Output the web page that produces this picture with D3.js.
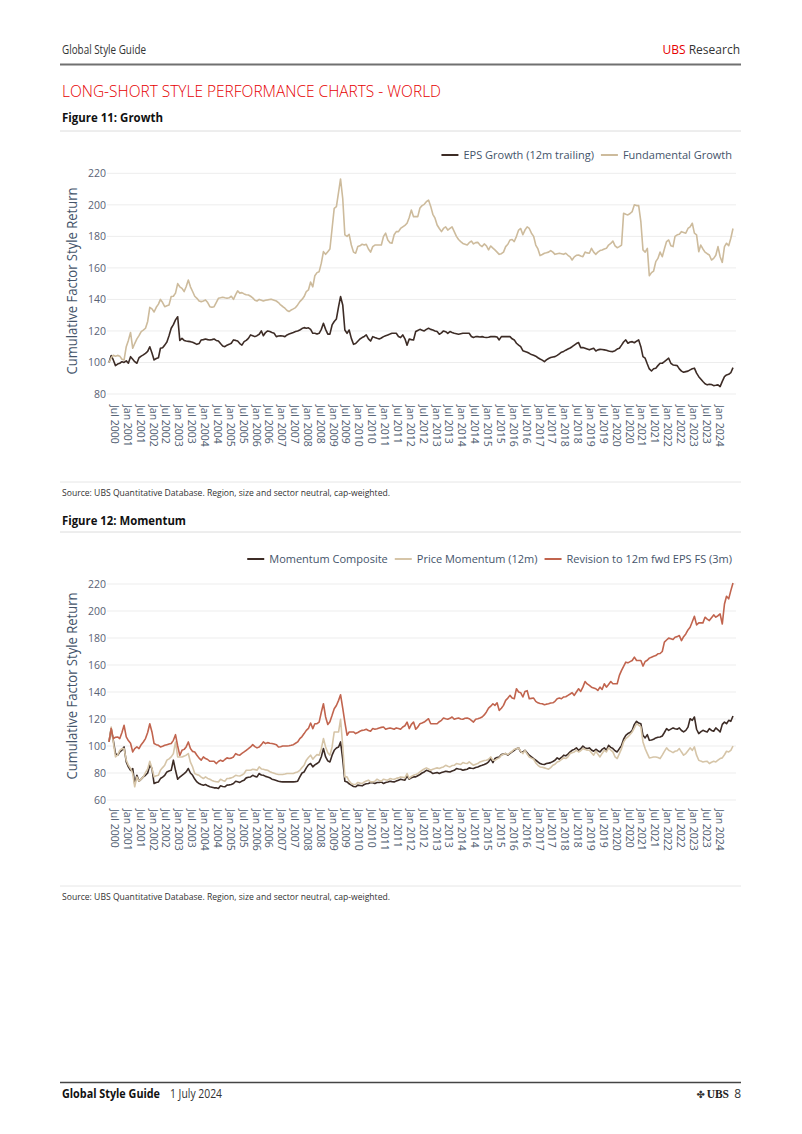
<!DOCTYPE html>
<html><head><meta charset="utf-8">
<script src="https://cdn.jsdelivr.net/npm/d3@7"></script>
<style>body{margin:0;background:#fff;} svg{display:block;}</style>
</head><body><svg id="c" width="802" height="1134"></svg>
<script>
// ---------------- DATA (monthly, first point Mar 2000, last Jun 2024) ----------------
const firstMonth = "2000-03-01";
const growthSeriesNames = ["EPS Growth (12m trailing)", "Fundamental Growth"];
const momentumSeriesNames = ["Momentum Composite", "Price Momentum (12m)", "Revision to 12m fwd EPS FS (3m)"];
const growthTicks = [80, 100, 120, 140, 160, 180, 200, 220];
const momentumTicks = [60, 80, 100, 120, 140, 160, 180, 200, 220];

const epsGrowth = [
100,104.4,101.6,98,99,99.5,100.5,100,101,99.5,103.7,102,
100.5,99.5,103,104,104.8,105.8,107,110,106,101.6,102.5,103,
109,109.4,111,113,117,121.7,124,127,129,114,115.3,114,
113.6,113.4,113.2,112.8,112.2,111.5,112,114.3,114.5,114.9,114.5,114.3,
114.5,114.9,114,113.6,112,110.5,110,111,111.5,112.2,114.3,114,
113.6,112,111,113.2,114,115.3,117.5,117,116.4,117,117.9,120,
117,119,120,119.6,119,118.5,116.4,116.8,117,116.8,116.4,117.5,
118,118.5,119,119.6,120,120.6,121.5,122.1,121.7,122,121,118.5,
118.5,118,118.5,121,124.9,121,118,118,123.8,126,127.6,135.4,
141.8,136.5,120.6,118.5,120.6,115.3,111.5,112,113.5,114.9,115.8,116.5,
117.5,115,113.6,116.4,115.8,115.3,114.9,115.5,116.4,117,117.5,118,
118.5,118.5,118.5,116.5,115.8,117.5,115,111,114.9,114.5,114.3,119.6,
120.3,121,120.5,120,121,121.7,121,120.6,120,119.6,117.9,118.8,
120,119.5,118.5,119.6,119,118.5,118.2,117.9,118.2,118.5,118.5,118.5,
118.5,116.5,115.8,116.4,116.4,116.2,116.4,116,115.8,116,116.4,116.4,
116.4,116.2,114.3,116.4,116.4,116.4,116.4,116.4,115,114.3,112.2,111,
110,107.5,107,106.5,105.8,105,104.6,104,103,102.2,101.5,100.5,
101.6,102.5,103.1,103.5,103.7,104.5,105.5,106.5,107,107.8,108.5,109.2,
110,111,112,112.6,109.4,109.5,109,108.5,108,108.5,109,107.3,
108,108.3,108.2,108,107.8,107.3,107,106.9,107.5,108.5,109,111,
113,114.3,112.2,113,113.2,112.5,113.5,114.3,110,103.7,102.7,99,
95.9,94.6,96,96.4,98,99.5,99.5,100.5,101.6,102.7,99.5,98.4,
98.2,98,95.9,94.5,93.8,94.2,94.5,95.3,96,96.4,93.2,91,
89.5,87.9,86.5,85.8,86.2,86,85.3,85.5,85.8,84.7,88,91,
92.1,92.5,93.5,96.7];

const fundamentalGrowth = [
100,103,104.5,104,104.5,104,102,101.6,110,114,119,109,
112,115,117,119.6,120.5,121.7,126,135,134,132,135,137,
140,138,135.4,136,136.5,141.8,142,144,150,148,147,145,
148,152.3,148,145,142,140.7,139,138.6,139,139.7,138,135.4,
135,135.4,138,140.7,141,141.4,141,140.7,141,142,140,143,
145.4,144,144.3,143.5,143,142.8,142,141,139.5,139,140,139.5,
139,139.5,139.7,140,140,139.5,139,138,136.5,135.5,134.4,133,
132.3,133.3,134,134.8,136.5,138.6,140,141.8,145,146,151,148,
155,157,157.6,163,170.3,168.6,170.3,172,185,197.8,198.9,208,
216.4,204,181,180,181.3,174.5,170,169.3,173.5,174,175,174.5,
175,172,170,173.5,174.5,174.5,174.5,174.5,180,182,177.7,176,
175.6,181,183,183,185,186,187,188.3,192,196.7,192.5,192.5,
192.5,198,199.5,200.3,202,203,199,194,191.5,187.2,185,183,
185,186,184,185,186,183,180,178,176.7,175.5,175,174.5,
176,177,175.2,176,176.2,174.5,173.5,175.2,174,171.4,173.9,172.5,
171.4,170,168.6,169,170,173.5,175,177.7,178,176.7,180,184,
185,181,184,186,185,182,180,174.5,172,167.8,168.5,169.3,
169.6,170,171,170,168.6,169,169.3,169,168.6,169.3,168,167,
165,167,168,168.2,167.5,167.1,170,169.5,169.3,172.4,170,168.6,
170,171,171.4,172,172.4,174.5,175.5,177,174,172.8,173.5,174.5,
194.6,194,193.6,194.5,195.7,200,199.5,199.5,189.3,171.4,170,172.4,
155,157,158,164,166,170,167.1,172,176.7,177.7,174,173.5,
180,181,181.3,183,182.5,182,185,186,188.3,182,181,170.3,
174.5,172,170,169,168.2,165,166,168,173.5,167.1,163.5,173.5,
175.6,174.1,178.8,185];

const momentumComposite = [
103,112.9,104.2,94.4,93.2,95.6,97,99.3,88.2,84.5,82,83.3,
72.2,78.3,73.9,75.5,77.1,78.3,80,85.8,83.3,72.2,73,73.4,
75.9,77,78.3,80.8,81.5,82,89.5,82,75.4,77,78.3,79.5,
80.8,83.3,80,78.3,75.5,73.4,72.2,71.5,71,71.5,70.5,69.8,
69.5,69,69,68.5,70.5,70,69.8,71,71.2,71.5,72.2,73.9,
73.5,73,74,74.7,76.4,76.8,77.1,78.3,77.5,77.1,79.6,78.5,
78.3,77.5,77.1,76.5,75.4,75,74.5,73.9,73.6,73.4,73.4,73.4,
73.4,73.4,73.4,73.6,73.9,77.1,80,80.8,83.8,86,87,84.5,
86,87,88.2,92,98.1,91.9,89,88.2,93.2,96.8,98.5,99.3,
103,90,73.9,73.4,72,71,70,69.8,71,70.8,70.5,71.5,
72,72.2,73,72.8,72.2,73,73,73.4,72.2,73,73.4,73.9,
73.6,73.4,74,74.7,75.4,75,74.7,77.8,75.4,76.5,77.1,77.1,
78,78.9,80,80.8,82,81.5,80.8,79.6,80,80.3,79.6,80.3,
80.8,81.3,81,80.8,81.5,82,83.3,83,82.8,82,82.5,82.8,
83.8,83.5,83.3,84,84.5,85.2,85.7,86.3,87,88.2,90.7,87.7,
90.7,91.5,91.9,93.6,94,94.4,93.2,94.5,95.6,96.8,98,98.6,
95.6,95.6,96.8,95,93.2,92,90.7,89.5,88.2,87,86.5,86.3,
87,87.3,87.7,88.5,89.4,91.2,90.2,91.5,93.2,92.7,94,95.6,
96.8,97.5,98.6,96.8,98,100,98.6,98.1,98.6,97,96.1,97.6,
96.5,95.6,97.5,98.6,96.8,100.5,99,98.1,96.5,95.6,98.1,100.5,
105,107.9,109.2,110,111.6,116,118.3,117,116.5,107.9,106,108.4,
104.2,104.5,105,106,106.5,106.7,107.4,110,112.9,111.6,112.5,113.4,
112.8,112.4,113.4,111.5,110.4,111.6,114,120.2,119,121.5,112.4,109.2,
110.5,111.6,111,110.4,112.9,111.5,110.9,113.4,112,110.4,116,117.7,
116.5,119,118.3,122.2];

const priceMomentum = [
103,114,103,91.9,93.2,96.8,98,98.1,89.5,85.8,83.3,79.6,
69.8,77.1,73.9,75.5,77.1,80.3,83,88.7,83.3,77.1,78,78.3,
82,84,85.8,89.5,90.5,91.9,94.4,103,91.9,91.9,91.9,92.5,
93.2,94.4,88,84.5,79.6,78.8,78.3,77,75.9,77.1,76,75.4,
74.5,73.9,73.5,73.4,75.4,74.5,73.9,75.9,76,76.4,77.1,78.3,
78,77.8,78.5,79.6,82,82,82,82.8,82.5,82,84.5,83,
82.8,82.3,82,81,80.3,79.8,79.2,78.9,78.9,78.9,79.2,79.6,
79.6,79.6,79.6,80.3,80.8,82,84,85.8,89.5,91.5,93.2,90.2,
92,93.6,93.2,98,105.5,99.3,95,93.2,99.3,110.4,110.4,110.4,
119.8,100,77.1,77.1,74,72.2,71.5,71.5,73,72.5,72.2,73.4,
74,74.7,73.4,73.4,73.9,75.4,74.5,73.9,75.4,75,74.7,75.9,
75.5,75.4,76,76.4,77.1,76.8,76.4,79.6,75.9,77.5,78.3,78.9,
79.5,80.8,82,83,83.8,83,82,82.8,83.3,83.8,83.3,84,
84.5,85.7,85,84.5,85.5,85.7,87,86.7,86.3,87.7,87.2,87,
88.2,87,85.7,86.5,87,88.2,88.7,89.2,89.4,90.2,91.9,89.4,
89.4,90.5,91.2,93.2,93.8,94.4,93.6,95,96.1,97.6,98,98.6,
96.1,94.4,96.8,94,91.9,91,90.2,87.5,85.7,84.5,84.2,83.8,
83.3,82.8,84,85.7,86.5,88.2,88.7,90,91.2,90.7,92,94.4,
95,95.6,96.8,95.6,96.5,98.1,97.5,96.8,96.8,95,93.2,96.1,
94,91.9,94.5,96.8,95.6,98.6,97,95.6,92,90.7,94.4,98.1,
103,105.5,106.7,108.5,110.4,113.5,116.5,115.5,114.1,103,98.1,94.4,
91.2,91.5,91.9,91.9,91.5,90.7,93.2,96,98.6,96.8,96,95.1,
96.1,96.5,98.1,95.5,93.2,94.4,96.5,98.6,96.8,99.3,93.2,89.4,
88.8,88.2,88.5,88.7,87,88,88.7,88.2,89.5,90.7,91.2,93.5,
96.1,95.6,96.8,100];

const epsRevision = [
103,112.9,105.5,106.5,106.7,105.5,110,115.3,106.7,104,102,95.6,
98,99.3,98.1,101,103,105.5,110,116.5,110.4,101.8,101,100.5,
99.3,99.8,100.5,101,101.5,101.8,104.2,108.4,100,93,96.8,97.5,
99.3,103,98.1,96,95.6,93.2,91,89.5,91.9,90.7,90,88.7,
88.7,88.7,87,88.5,89.5,88.7,90,91.2,90.7,91,91.9,94.4,
93.5,93.2,94.5,95.6,96.8,98,99.3,101,99.5,98.6,99.3,101,
103,101.8,102.5,102,101.8,101.5,101,99.3,99.5,100,100,100,
100.2,100.5,101,102,103,105.5,107,109.2,111.6,113,117,112.9,
116.5,116.5,117.7,125,131.3,121.5,116,118,122.7,127.6,130,133.8,
138,128,117.7,108,110.4,110.4,110.4,109.2,110,110.9,111.6,111.8,
112.4,111.5,110.9,112.9,112.4,112.8,113.4,113.8,114.1,112.4,113,113.4,
113,112.4,113.4,113,112.4,114.1,115,117.7,112.9,116,117.7,112.4,
114,116.5,117,117.7,119,120.2,116.5,116.5,116.5,116.5,118,119,
120.7,120.2,119.8,120.5,121.5,119.8,120.3,120.7,120,119.8,120.5,120.7,
120.2,119,117.7,119.8,120.2,120.7,121.5,123,125.2,128,129.5,131.3,
130.1,132,126.4,128,130.1,133.8,135.5,137.5,135.5,135,142.4,140,
139.5,136.3,140.4,141,135,135.3,135.5,133.1,132,131.5,131.3,130.6,
131,131.3,131.8,132,133.1,135,135.5,135,136.3,136.5,137.5,138.5,
139.5,137.5,140,142.4,140.4,143.6,147.8,146,144.9,143.6,143,142.4,
141.1,143.6,141.9,146.1,143.6,145.5,147.8,146.1,146.1,146.1,152.3,156,
159,162.1,161.6,162.5,163.3,165.8,163.3,163.3,163.3,159.2,162.6,163.5,
165.1,165.8,166.5,167,168.3,168.5,170,176.9,178.5,179.9,179.5,178.9,
180.6,181,181.8,178.1,181,183,186,188,192,196.1,189.7,191.2,
191.2,191.2,195.4,194,192.9,195,197.1,195.4,196.5,197.8,190.4,205.2,
210.9,209,215.1,220.7];

// ---------------- DRAWING ----------------
const svg = d3.select("#c");
const FONT = "'Open Sans', 'DejaVu Sans', sans-serif";
const RED = "#e60000";

const start = new Date(firstMonth + "T00:00:00Z");
const dateAt = i => d3.utcMonth.offset(start, i);
const end = dateAt(epsGrowth.length - 1);

function txt(x, y, s, opts = {}) {
  const t = svg.append("text").attr("x", x).attr("y", y).text(s)
    .attr("font-family", opts.family || FONT)
    .attr("font-size", opts.size || 12)
    .attr("fill", opts.fill || "#222")
    .attr("font-weight", opts.weight || "normal")
    .attr("text-anchor", opts.anchor || "start");
  if (opts.len) t.attr("textLength", opts.len).attr("lengthAdjust", "spacingAndGlyphs");
  return t;
}
function hline(x1, x2, y, col, w) {
  svg.append("line").attr("x1", x1).attr("x2", x2).attr("y1", y).attr("y2", y)
    .attr("stroke", col).attr("stroke-width", w);
}

// Header
txt(62, 54, "Global Style Guide", {size: 12, fill: "#333", len: 84});
const hr = txt(740, 54, "", {size: 12, fill: "#333", anchor: "end"});
hr.append("tspan").attr("fill", RED).text("UBS");
hr.append("tspan").text(" Research");
hline(60, 741, 64.5, "#707070", 2);
txt(62, 97, "LONG-SHORT STYLE PERFORMANCE CHARTS - WORLD", {size: 15.5, fill: RED, len: 379, weight: 300});
txt(62, 122, "Figure 11: Growth", {size: 12.5, fill: "#111", weight: "bold", len: 101});
hline(60, 741, 131, "#dcdcdc", 1);
hline(60, 741, 482, "#e6e6e6", 1);
txt(62, 496, "Source: UBS Quantitative Database. Region, size and sector neutral, cap-weighted.", {size: 8.5, fill: "#333", len: 328});
txt(62, 525, "Figure 12: Momentum", {size: 12.5, fill: "#111", weight: "bold", len: 124});
hline(60, 741, 532, "#dcdcdc", 1);
hline(60, 741, 886, "#e6e6e6", 1);
txt(62, 900, "Source: UBS Quantitative Database. Region, size and sector neutral, cap-weighted.", {size: 8.5, fill: "#333", len: 328});

// Footer
hline(60, 741, 1082.5, "#444", 1.5);
txt(62, 1098, "Global Style Guide", {size: 12, fill: "#111", weight: "bold", len: 98});
txt(170, 1098, "1 July 2024", {size: 12, fill: "#333", len: 52});
txt(705, 1098, "✤", {size: 10, fill: "#333", family: "'DejaVu Sans', sans-serif", anchor: "end"});
txt(729, 1098, "UBS", {size: 11.5, fill: "#222", family: "'Liberation Serif', serif", weight: "bold", anchor: "end"});
txt(741, 1098, "8", {size: 12, fill: "#333", anchor: "end"});

function drawChart(cfg) {
  const x = d3.scaleUtc().domain([start, end]).range([109, 733]);
  const y = d3.scaleLinear().domain(d3.extent(cfg.ticks)).range([cfg.yBottom, cfg.yTop]);
  const g = svg.append("g");

  // grid
  g.selectAll("line.grid").data(cfg.ticks).enter().append("line")
    .attr("x1", 107).attr("x2", 736)
    .attr("y1", d => y(d)).attr("y2", d => y(d))
    .attr("stroke", "#ededed").attr("stroke-width", 1);
  // y labels
  g.selectAll("text.yl").data(cfg.ticks).enter().append("text")
    .attr("x", 106).attr("y", d => y(d)).attr("dy", "0.35em")
    .attr("text-anchor", "end").attr("font-family", FONT).attr("font-size", 10.5)
    .attr("fill", "#5a6275").text(d => d);
  // y title
  g.append("text").attr("transform", `translate(77,${cfg.titleY}) rotate(-90)`)
    .attr("text-anchor", "middle").attr("font-family", FONT).attr("font-size", 14.5)
    .attr("fill", "#44546a").attr("textLength", 187).attr("lengthAdjust", "spacingAndGlyphs")
    .text("Cumulative Factor Style Return");
  // x labels
  const xt = d3.utcMonth.every(6).range(dateAt(1), d3.utcDay.offset(end, 1));
  const fmt = d3.utcFormat("%b %Y");
  g.selectAll("text.xl").data(xt).enter().append("text")
    .attr("transform", d => `translate(${x(d) - 3},${cfg.xLabelY}) rotate(90)`)
    .attr("dy", "0.35em").attr("font-family", FONT).attr("font-size", 10.5)
    .attr("fill", "#4d5a6e").text(d => fmt(d));

  // lines
  const line = d3.line().x((d, i) => x(dateAt(i))).y(d => y(d)).curve(d3.curveLinear);
  cfg.series.forEach(s => {
    g.append("path").datum(s.values).attr("d", line)
      .attr("fill", "none").attr("stroke", s.color).attr("stroke-width", 1.6)
      .attr("stroke-linejoin", "round");
  });

  // legend, laid out right to left
  let xr = 732;
  const items = cfg.series.slice().reverse();
  items.forEach(s => {
    const t = g.append("text").attr("x", xr).attr("y", cfg.legendY).attr("dy", "0.35em")
      .attr("text-anchor", "end").attr("font-family", FONT).attr("font-size", 11)
      .attr("fill", "#44546a").text(s.name);
    const w = t.node().getComputedTextLength();
    const lx2 = xr - w - 5;
    g.append("line").attr("x1", lx2 - 17).attr("x2", lx2).attr("y1", cfg.legendY).attr("y2", cfg.legendY)
      .attr("stroke", s.color).attr("stroke-width", 2);
    xr = lx2 - 17 - 7;
  });
}

drawChart({
  ticks: growthTicks, yBottom: 394, yTop: 173.3, titleY: 281, xLabelY: 405, legendY: 155,
  series: [
    {name: growthSeriesNames[0], values: epsGrowth, color: "#3d2c26"},
    {name: growthSeriesNames[1], values: fundamentalGrowth, color: "#cdbb9c"}
  ]
});
drawChart({
  ticks: momentumTicks, yBottom: 800, yTop: 584, titleY: 686, xLabelY: 809, legendY: 559,
  series: [
    {name: momentumSeriesNames[0], values: momentumComposite, color: "#3d2c26"},
    {name: momentumSeriesNames[1], values: priceMomentum, color: "#d6c5a8"},
    {name: momentumSeriesNames[2], values: epsRevision, color: "#c1644e"}
  ]
});
</script></body></html>
